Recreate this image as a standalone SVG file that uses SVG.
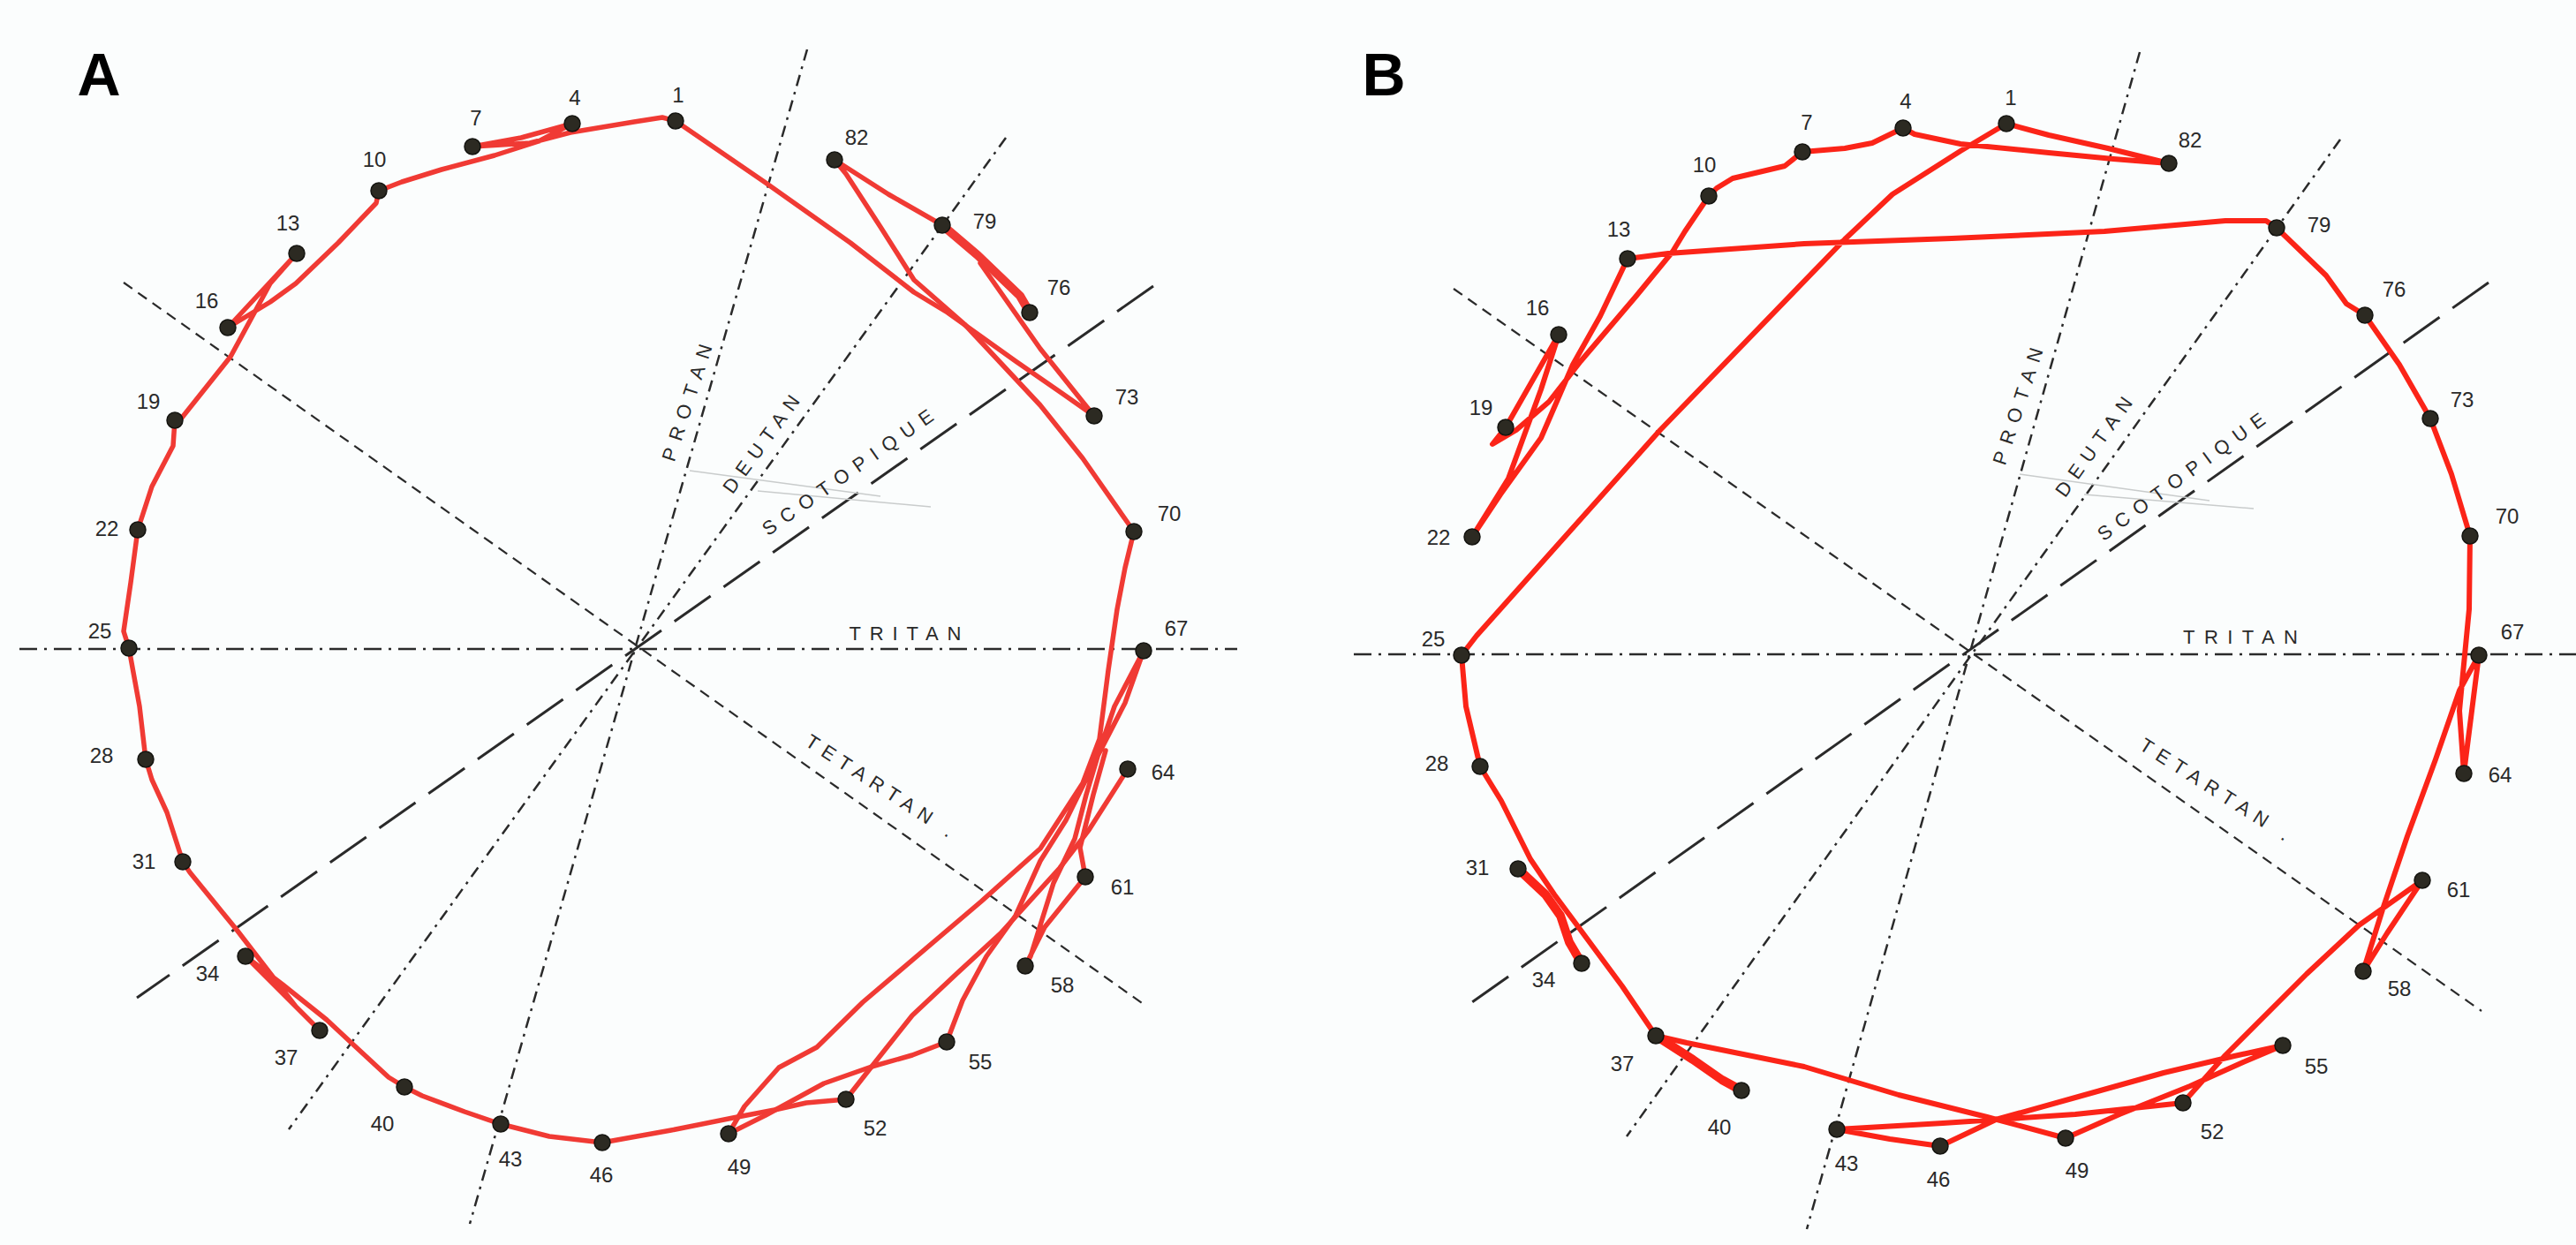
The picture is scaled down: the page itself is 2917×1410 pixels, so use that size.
<svg xmlns="http://www.w3.org/2000/svg" width="2917" height="1410" viewBox="0 0 2917 1410">
<style>
.bg{fill:#fbfdfd}
.ax{fill:none;stroke:#2a2a2a;stroke-width:2.5}
.dd{stroke-dasharray:20 8 3 8}
.dd2{stroke-dasharray:13 7 3 7}
.sc{stroke-dasharray:50 18;stroke-width:3}
.te{stroke-dasharray:12 8;stroke-width:2.2}
.faint{fill:none;stroke:#c9cccc;stroke-width:1.5}
.sa{fill:none;stroke:#f03a34;stroke-width:5.5;stroke-linejoin:round;stroke-linecap:round}
.sb{fill:none;stroke:#fb2418;stroke-width:6;stroke-linejoin:round;stroke-linecap:round}
.thick{stroke-width:10}
.pin{fill:#2c2a22;stroke:#141410;stroke-width:1.5}
.num{font-family:"Liberation Sans",Arial,sans-serif;font-size:24px;fill:#2a2a2a;text-anchor:middle;dominant-baseline:central}
.axl{font-family:"Liberation Sans",Arial,sans-serif;font-size:22px;fill:#2a2a2a;text-anchor:middle;dominant-baseline:central}
.big{font-family:"Liberation Sans",Arial,sans-serif;font-size:68px;font-weight:bold;fill:#000;text-anchor:middle;dominant-baseline:central}
</style>
<rect class="bg" x="0" y="0" width="2917" height="1410"/>

<g id="panel-A-axes">
<line class="ax dd" x1="22" y1="735" x2="1401" y2="735"/>
<line class="ax dd2" x1="914" y1="56" x2="532" y2="1386"/>
<line class="ax dd2" x1="1139" y1="156" x2="327" y2="1279"/>
<line class="ax sc" x1="1306" y1="324" x2="155" y2="1130"/>
<line class="ax te" x1="140" y1="320" x2="1296" y2="1138"/>
<line class="faint" x1="781" y1="533" x2="997" y2="562"/>
<line class="faint" x1="858" y1="556" x2="1054" y2="574"/>
<text class="axl" transform="translate(778,456) rotate(-71.8)" textLength="138" lengthAdjust="spacing">PROTAN</text>
<text class="axl" transform="translate(862,503) rotate(-54)" textLength="131" lengthAdjust="spacing">DEUTAN</text>
<text class="axl" transform="translate(960,535) rotate(-35.1)" textLength="231" lengthAdjust="spacing">SCOTOPIQUE</text>
<text class="axl" transform="translate(1025,717)" textLength="127" lengthAdjust="spacing">TRITAN</text>
<text class="axl" transform="translate(996,890) rotate(33)" textLength="194" lengthAdjust="spacing">TETARTAN .</text>
</g>

<g id="panel-B-axes">
<line class="ax dd" x1="1533" y1="741" x2="2917" y2="741"/>
<line class="ax dd2" x1="2423" y1="59" x2="2046" y2="1392"/>
<line class="ax dd2" x1="2650" y1="158" x2="1842" y2="1287"/>
<line class="ax sc" x1="2818" y1="320" x2="1660" y2="1140"/>
<line class="ax te" x1="1646" y1="327" x2="2810" y2="1145"/>
<line class="faint" x1="2287" y1="537" x2="2502" y2="567"/>
<line class="faint" x1="2360" y1="560" x2="2552" y2="576"/>
<text class="axl" transform="translate(2285,460) rotate(-71.8)" textLength="138" lengthAdjust="spacing">PROTAN</text>
<text class="axl" transform="translate(2371,506) rotate(-54.5)" textLength="133" lengthAdjust="spacing">DEUTAN</text>
<text class="axl" transform="translate(2470,540) rotate(-36.1)" textLength="229" lengthAdjust="spacing">SCOTOPIQUE</text>
<text class="axl" transform="translate(2537,721)" textLength="130" lengthAdjust="spacing">TRITAN</text>
<text class="axl" transform="translate(2508,894) rotate(32.5)" textLength="196" lengthAdjust="spacing">TETARTAN .</text>
</g>

<g id="connectors">
<g id="string-A">
<path class="sa" d="M765,137 L750,133 L718,138 L646,150 L600,162 L535,166 L590,156 L648,140 L610,160 L560,176 L500,192 L455,206 L429,216 L426,230 L383,275 L335,321 L306,342 L258,371 L336,287 L306,321 L261,404 L206,473 L198,476 L196,505 L172,551 L156,600 L148,660 L140,715 L146,734 L148,745 L158,800 L165,860 L172,883 L189,920 L207,976 L215,988 L268,1053 L335,1140 L362,1167 L320,1125 L278,1083 L320,1115 L370,1155 L400,1183 L440,1220 L458,1231 L478,1241 L526,1259 L567,1273 L622,1287 L682,1294 L760,1280 L830,1266 L877,1257 L913,1249 L958,1245 L987,1208 L1033,1150 L1083,1103 L1133,1057 L1200,983 L1233,940 L1277,871"/>
<path class="sa" d="M765,137 L867,207 L963,275 L1035,331 L1073,354 L1150,409 L1202,445 L1239,471 L1226,455 L1178,395 L1110,298"/>
<path class="sa thick" d="M1067,255 L1107,289 L1155,335 L1166,354"/>
<path class="sa" d="M1067,255 L1006,220 L945,181 L958,197 L997,257 L1035,317 L1092,367 L1178,459 L1226,519 L1284,602 L1274,643 L1265,690 L1255,759 L1245,837 L1226,887 L1178,961 L1111,1021 L977,1135 L925,1186 L882,1209 L843,1253 L825,1284 L867,1263 L933,1227 L987,1208 L1033,1195 L1072,1180 L1090,1133 L1117,1083 L1150,1037 L1178,975 L1207,929 L1241,860 L1274,796 L1295,737 L1262,800 L1245,850 L1230,900 L1217,950 L1193,1000 L1167,1083 L1161,1094 L1183,1050 L1229,993 L1223,960 L1238,900 L1252,850"/>
</g>
<g id="string-B">
<path class="sb" d="M2272,140 L2220,171 L2143,220 L2089,271 L1880,487 L1672,720 L1655,742 L1660,800 L1676,868 L1700,907 L1733,973 L1760,1013 L1800,1067 L1837,1117 L1875,1173 L1910,1181 L2043,1208 L2150,1240 L2250,1265 L2339,1289 L2400,1262 L2480,1230 L2540,1203 L2585,1184 L2530,1196 L2450,1215 L2350,1243 L2260,1268 L2197,1298 L2140,1290 L2080,1279 L2200,1272 L2350,1262 L2472,1249 L2520,1195 L2612,1103 L2671,1048 L2743,997 L2703,1057 L2676,1100 L2698,1030 L2726,947 L2758,860 L2785,782 L2807,742 L2790,876 L2785,805 L2788,773 L2796,690 L2797,607 L2776,537 L2752,474 L2717,413 L2678,357 L2657,344 L2634,312 L2578,258 L2566,250 L2520,250 L2383,262 L2210,270 L2043,276 L1889,287 L1843,293 L1812,358 L1781,413 L1745,496 L1699,560 L1667,608 L1708,542 L1745,441 L1765,379 L1705,484 L1690,503 L1717,487 L1754,455 L1790,409 L1853,335 L1894,285 L1908,262 L1935,222 L1944,213 L1962,202 L2021,188 L2041,172 L2089,168 L2120,162 L2155,145 L2168,152 L2220,163 L2320,173 L2393,180 L2456,185 L2387,168 L2320,153 L2272,140"/>
<path class="sb thick" d="M1875,1173 L1917,1200 L1950,1223 L1972,1235"/>
<path class="sb thick" d="M1719,984 L1750,1013 L1767,1037 L1777,1067 L1791,1091"/>
</g>
</g>

<text class="big" x="112" y="84">A</text>
<text class="big" x="1567" y="84">B</text>

<g id="nodes-A">
<g id="A1"><circle class="pin" cx="765" cy="137" r="9"/><text class="num" x="768" y="107">1</text></g>
<g id="A4"><circle class="pin" cx="648" cy="140" r="9"/><text class="num" x="651" y="110">4</text></g>
<g id="A7"><circle class="pin" cx="535" cy="166" r="9"/><text class="num" x="539" y="133">7</text></g>
<g id="A10"><circle class="pin" cx="429" cy="216" r="9"/><text class="num" x="424" y="180">10</text></g>
<g id="A13"><circle class="pin" cx="336" cy="287" r="9"/><text class="num" x="326" y="252">13</text></g>
<g id="A16"><circle class="pin" cx="258" cy="371" r="9"/><text class="num" x="234" y="340">16</text></g>
<g id="A19"><circle class="pin" cx="198" cy="476" r="9"/><text class="num" x="168" y="454">19</text></g>
<g id="A22"><circle class="pin" cx="156" cy="600" r="9"/><text class="num" x="121" y="598">22</text></g>
<g id="A25"><circle class="pin" cx="146" cy="734" r="9"/><text class="num" x="113" y="714">25</text></g>
<g id="A28"><circle class="pin" cx="165" cy="860" r="9"/><text class="num" x="115" y="855">28</text></g>
<g id="A31"><circle class="pin" cx="207" cy="976" r="9"/><text class="num" x="163" y="975">31</text></g>
<g id="A34"><circle class="pin" cx="278" cy="1083" r="9"/><text class="num" x="235" y="1102">34</text></g>
<g id="A37"><circle class="pin" cx="362" cy="1167" r="9"/><text class="num" x="324" y="1197">37</text></g>
<g id="A40"><circle class="pin" cx="458" cy="1231" r="9"/><text class="num" x="433" y="1272">40</text></g>
<g id="A43"><circle class="pin" cx="567" cy="1273" r="9"/><text class="num" x="578" y="1312">43</text></g>
<g id="A46"><circle class="pin" cx="682" cy="1294" r="9"/><text class="num" x="681" y="1330">46</text></g>
<g id="A49"><circle class="pin" cx="825" cy="1284" r="9"/><text class="num" x="837" y="1321">49</text></g>
<g id="A52"><circle class="pin" cx="958" cy="1245" r="9"/><text class="num" x="991" y="1277">52</text></g>
<g id="A55"><circle class="pin" cx="1072" cy="1180" r="9"/><text class="num" x="1110" y="1202">55</text></g>
<g id="A58"><circle class="pin" cx="1161" cy="1094" r="9"/><text class="num" x="1203" y="1115">58</text></g>
<g id="A61"><circle class="pin" cx="1229" cy="993" r="9"/><text class="num" x="1271" y="1004">61</text></g>
<g id="A64"><circle class="pin" cx="1277" cy="871" r="9"/><text class="num" x="1317" y="874">64</text></g>
<g id="A67"><circle class="pin" cx="1295" cy="737" r="9"/><text class="num" x="1332" y="711">67</text></g>
<g id="A70"><circle class="pin" cx="1284" cy="602" r="9"/><text class="num" x="1324" y="581">70</text></g>
<g id="A73"><circle class="pin" cx="1239" cy="471" r="9"/><text class="num" x="1276" y="449">73</text></g>
<g id="A76"><circle class="pin" cx="1166" cy="354" r="9"/><text class="num" x="1199" y="325">76</text></g>
<g id="A79"><circle class="pin" cx="1067" cy="255" r="9"/><text class="num" x="1115" y="250">79</text></g>
<g id="A82"><circle class="pin" cx="945" cy="181" r="9"/><text class="num" x="970" y="155">82</text></g>
</g>

<g id="nodes-B">
<g id="B1"><circle class="pin" cx="2272" cy="140" r="9"/><text class="num" x="2277" y="110">1</text></g>
<g id="B4"><circle class="pin" cx="2155" cy="145" r="9"/><text class="num" x="2158" y="114">4</text></g>
<g id="B7"><circle class="pin" cx="2041" cy="172" r="9"/><text class="num" x="2046" y="138">7</text></g>
<g id="B10"><circle class="pin" cx="1935" cy="222" r="9"/><text class="num" x="1930" y="186">10</text></g>
<g id="B13"><circle class="pin" cx="1843" cy="293" r="9"/><text class="num" x="1833" y="259">13</text></g>
<g id="B16"><circle class="pin" cx="1765" cy="379" r="9"/><text class="num" x="1741" y="348">16</text></g>
<g id="B19"><circle class="pin" cx="1705" cy="484" r="9"/><text class="num" x="1677" y="461">19</text></g>
<g id="B22"><circle class="pin" cx="1667" cy="608" r="9"/><text class="num" x="1629" y="608">22</text></g>
<g id="B25"><circle class="pin" cx="1655" cy="742" r="9"/><text class="num" x="1623" y="723">25</text></g>
<g id="B28"><circle class="pin" cx="1676" cy="868" r="9"/><text class="num" x="1627" y="864">28</text></g>
<g id="B31"><circle class="pin" cx="1719" cy="984" r="9"/><text class="num" x="1673" y="982">31</text></g>
<g id="B34"><circle class="pin" cx="1791" cy="1091" r="9"/><text class="num" x="1748" y="1109">34</text></g>
<g id="B37"><circle class="pin" cx="1875" cy="1173" r="9"/><text class="num" x="1837" y="1204">37</text></g>
<g id="B40"><circle class="pin" cx="1972" cy="1235" r="9"/><text class="num" x="1947" y="1276">40</text></g>
<g id="B43"><circle class="pin" cx="2080" cy="1279" r="9"/><text class="num" x="2091" y="1317">43</text></g>
<g id="B46"><circle class="pin" cx="2197" cy="1298" r="9"/><text class="num" x="2195" y="1335">46</text></g>
<g id="B49"><circle class="pin" cx="2339" cy="1289" r="9"/><text class="num" x="2352" y="1325">49</text></g>
<g id="B52"><circle class="pin" cx="2472" cy="1249" r="9"/><text class="num" x="2505" y="1281">52</text></g>
<g id="B55"><circle class="pin" cx="2585" cy="1184" r="9"/><text class="num" x="2623" y="1207">55</text></g>
<g id="B58"><circle class="pin" cx="2676" cy="1100" r="9"/><text class="num" x="2717" y="1119">58</text></g>
<g id="B61"><circle class="pin" cx="2743" cy="997" r="9"/><text class="num" x="2784" y="1007">61</text></g>
<g id="B64"><circle class="pin" cx="2790" cy="876" r="9"/><text class="num" x="2831" y="877">64</text></g>
<g id="B67"><circle class="pin" cx="2807" cy="742" r="9"/><text class="num" x="2845" y="715">67</text></g>
<g id="B70"><circle class="pin" cx="2797" cy="607" r="9"/><text class="num" x="2839" y="584">70</text></g>
<g id="B73"><circle class="pin" cx="2752" cy="474" r="9"/><text class="num" x="2788" y="452">73</text></g>
<g id="B76"><circle class="pin" cx="2678" cy="357" r="9"/><text class="num" x="2711" y="327">76</text></g>
<g id="B79"><circle class="pin" cx="2578" cy="258" r="9"/><text class="num" x="2626" y="254">79</text></g>
<g id="B82"><circle class="pin" cx="2456" cy="185" r="9"/><text class="num" x="2480" y="158">82</text></g>
</g>
</svg>
